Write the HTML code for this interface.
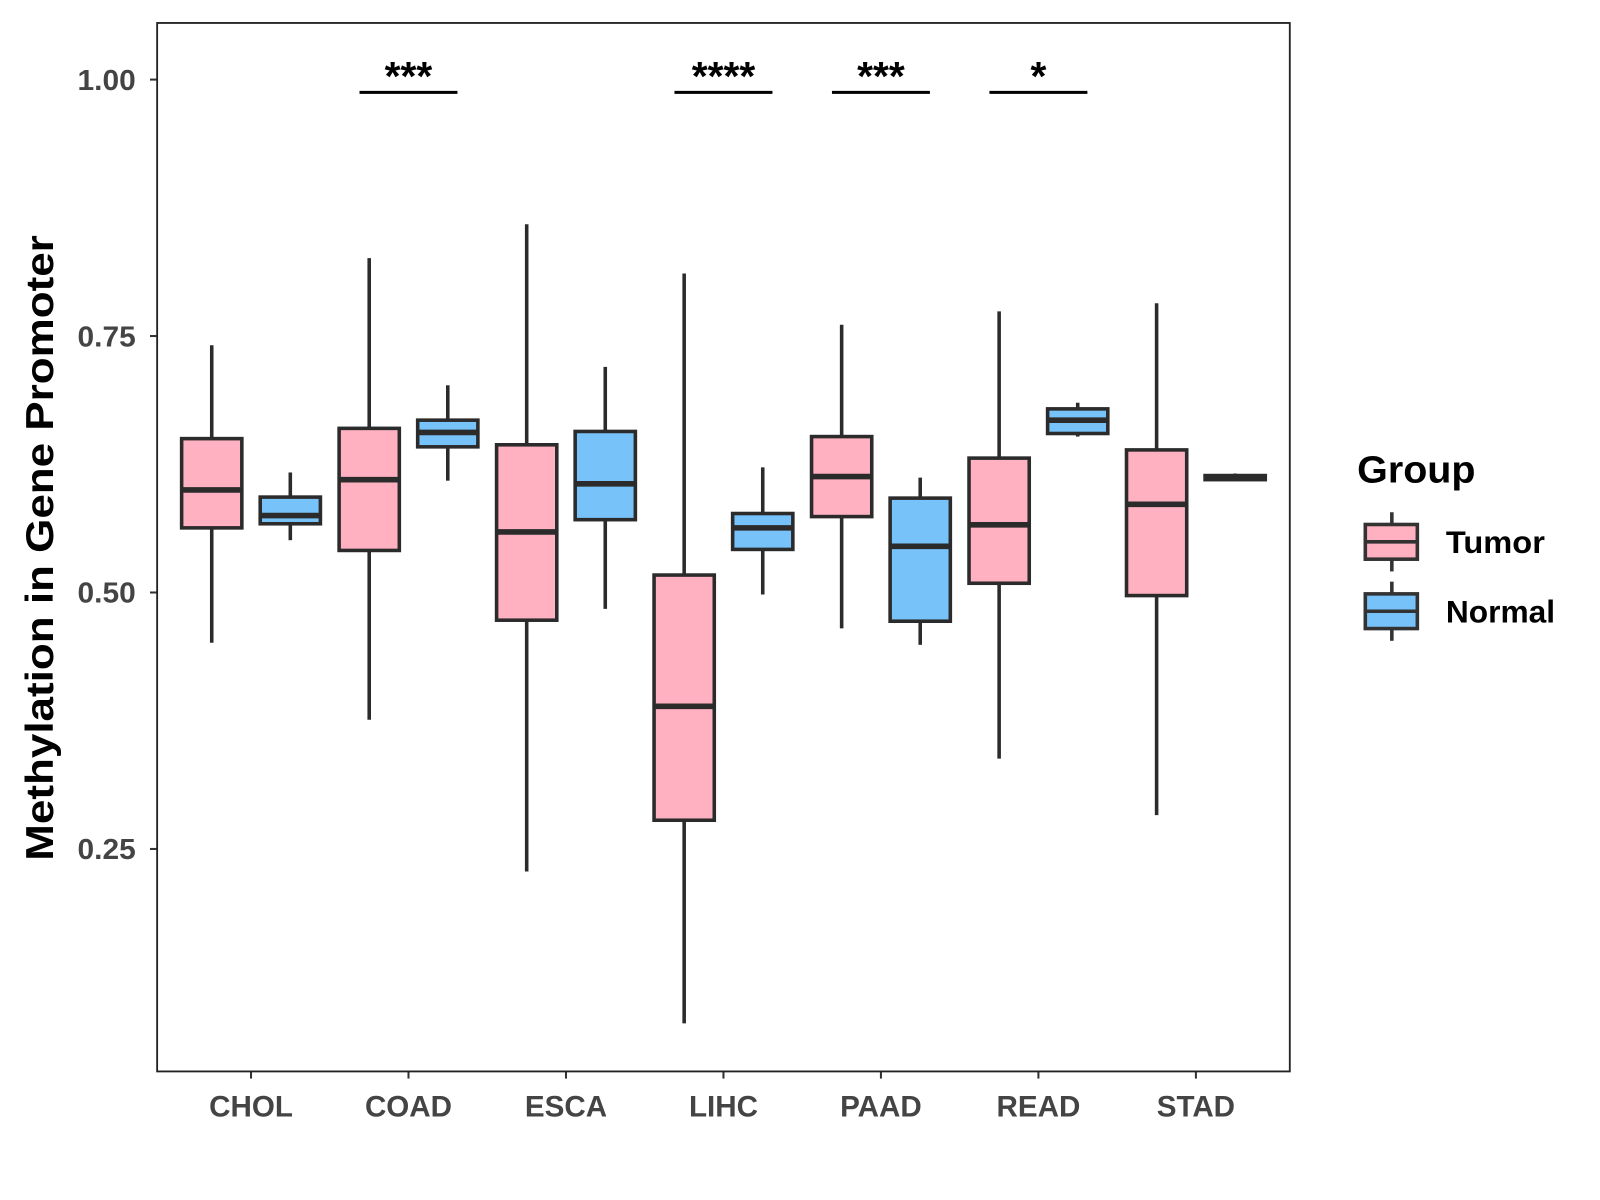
<!DOCTYPE html>
<html><head><meta charset="utf-8"><style>
html,body{margin:0;padding:0;background:#fff;}
svg{display:block;font-family:"Liberation Sans",Arial,sans-serif;}
</style></head><body>
<svg id="chart" width="1600" height="1200" viewBox="0 0 1568 1176" xmlns="http://www.w3.org/2000/svg">
<rect x="0" y="0" width="1568" height="1176" fill="#fff"/>
<g id="marks"></g>
<rect x="154" y="22.5" width="1110" height="1027.5" fill="none" stroke="#222" stroke-width="1.8"/>
<text transform="translate(52,537) rotate(-90)" text-anchor="middle" font-size="38" font-weight="bold" fill="#000" textLength="613" lengthAdjust="spacingAndGlyphs">Methylation in Gene Promoter</text>
<g>
<text x="1330" y="473" font-size="37" font-weight="bold" fill="#000" textLength="116" lengthAdjust="spacingAndGlyphs">Group</text>
<g>
<line x1="1364" y1="502" x2="1364" y2="560" stroke="#333" stroke-width="3.5"/>
<rect x="1338" y="514" width="51" height="34" fill="#FFB0C1" stroke="#333" stroke-width="3.5"/>
<line x1="1338" y1="531" x2="1389" y2="531" stroke="#333" stroke-width="3.5"/>
<text x="1417" y="542" font-size="31" font-weight="bold" fill="#000" textLength="97" lengthAdjust="spacingAndGlyphs">Tumor</text>
</g>
<g>
<line x1="1364" y1="570" x2="1364" y2="628" stroke="#333" stroke-width="3.5"/>
<rect x="1338" y="582" width="51" height="34" fill="#77C2F8" stroke="#333" stroke-width="3.5"/>
<line x1="1338" y1="599" x2="1389" y2="599" stroke="#333" stroke-width="3.5"/>
<text x="1417" y="610" font-size="31" font-weight="bold" fill="#000" textLength="107" lengthAdjust="spacingAndGlyphs">Normal</text>
</g>
</g>
</svg>
<script>
const categories = ["CHOL","COAD","ESCA","LIHC","PAAD","READ","STAD"];
// [low, q1, median, q3, high]
const tumorStats = [
 [0.451,0.563,0.600,0.650,0.741],
 [0.376,0.541,0.610,0.660,0.826],
 [0.228,0.473,0.559,0.644,0.859],
 [0.080,0.278,0.389,0.517,0.811],
 [0.465,0.574,0.613,0.652,0.761],
 [0.338,0.509,0.566,0.631,0.774],
 [0.283,0.497,0.586,0.639,0.782]
];
const normalStats = [
 [0.551,0.567,0.575,0.593,0.617],
 [0.609,0.642,0.656,0.668,0.702],
 [0.484,0.571,0.606,0.657,0.720],
 [0.498,0.542,0.563,0.577,0.622],
 [0.449,0.472,0.545,0.592,0.612],
 [0.652,0.655,0.668,0.679,0.685],
 [0.609,0.610,0.612,0.614,0.616]
];
const signifLabels = ["","***","","****","***","*",""];
const yTicks = [0.25,0.50,0.75,1.00];
const yTickLabels = ["0.25","0.50","0.75","1.00"];

const NS="http://www.w3.org/2000/svg";
const g=document.getElementById('marks');
const svgRoot=document.getElementById('chart');
function yScale(v){return 78+(1-v)*1005.3;}
function xScale(i){return 246+i*154.33;}
function mk(tag,attrs,parent){const e=document.createElementNS(NS,tag);for(const k in attrs)e.setAttribute(k,attrs[k]);(parent||g).appendChild(e);return e;}

yTicks.forEach((t,i)=>{
 const tk=mk('line',{x1:147,x2:154,y1:yScale(t),y2:yScale(t),stroke:'#333','stroke-width':2});
 
 
 const tx=mk('text',{x:133,y:yScale(t)+10,'text-anchor':'end','font-size':28,'font-weight':'bold',fill:'#444',textLength:57,lengthAdjust:'spacingAndGlyphs'},svgRoot);
 tx.textContent=yTickLabels[i];
 
 
});
categories.forEach((c,i)=>{
 const tk=mk('line',{x1:xScale(i),x2:xScale(i),y1:1050,y2:1057,stroke:'#333','stroke-width':2});
 
 
 const tx=mk('text',{x:xScale(i),y:1094,'text-anchor':'middle','font-size':29,'font-weight':'bold',fill:'#444'},svgRoot);
 tx.textContent=c;
 
 
});
function drawBox(cx,s,fill,name){
 const grp=mk('g',{});
 
 
 mk('line',{x1:cx,x2:cx,y1:yScale(s[4]),y2:yScale(s[3]),stroke:'#2b2b2b','stroke-width':3.5},grp);
 mk('line',{x1:cx,x2:cx,y1:yScale(s[1]),y2:yScale(s[0]),stroke:'#2b2b2b','stroke-width':3.5},grp);
 mk('rect',{x:cx-29.5,y:yScale(s[3]),width:59,height:Math.max(0.5,yScale(s[1])-yScale(s[3])),fill:fill,stroke:'#2b2b2b','stroke-width':3.5},grp);
 mk('line',{x1:cx-29.5,x2:cx+29.5,y1:yScale(s[2]),y2:yScale(s[2]),stroke:'#2b2b2b','stroke-width':5.5},grp);
}
categories.forEach((c,i)=>{
 drawBox(xScale(i)-38.5,tumorStats[i],'#FFB0C1','box-tumor-'+c.toLowerCase());
 drawBox(xScale(i)+38.5,normalStats[i],'#77C2F8','box-normal-'+c.toLowerCase());
 if(signifLabels[i]){
  const ln=mk('line',{x1:xScale(i)-48,x2:xScale(i)+48,y1:90.5,y2:90.5,stroke:'#000','stroke-width':3});
  
  
  const tx=mk('text',{x:xScale(i),y:88,'text-anchor':'middle','font-size':40,'font-weight':'bold',fill:'#000'});
  tx.textContent=signifLabels[i];
  
  
 }
});
</script>
</body></html>
